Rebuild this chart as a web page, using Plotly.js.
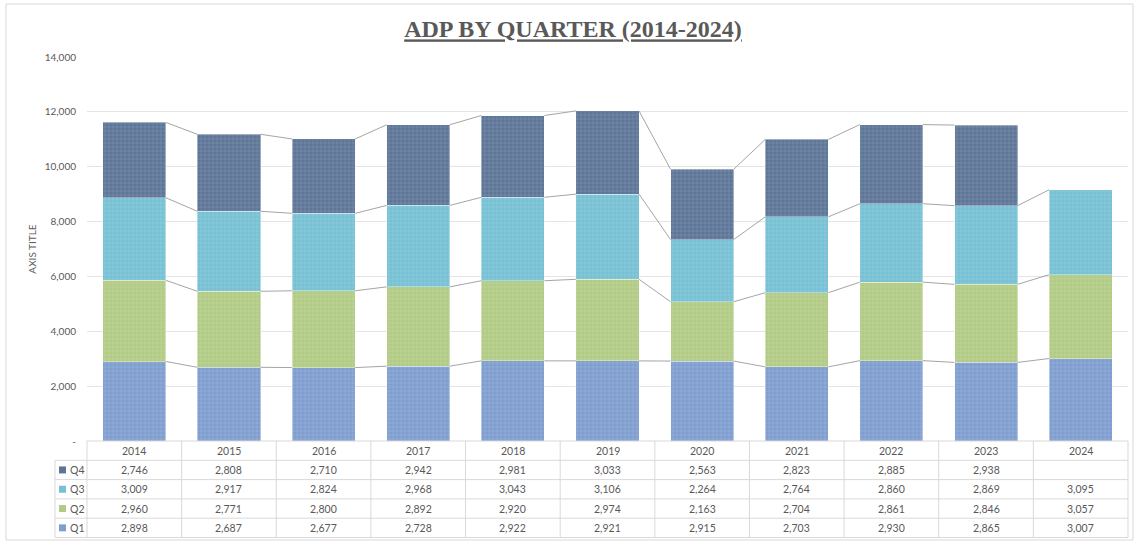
<!DOCTYPE html>
<html><head><meta charset="utf-8">
<script src="https://cdn.plot.ly/plotly-3.0.1.min.js"></script>
<style>html,body{margin:0;padding:0;background:#fff}#chart{width:1135px;height:542px}</style>
</head><body><div id="chart"></div>
<script>
const years = ['2014','2015','2016','2017','2018','2019','2020','2021','2022','2023','2024'];
const q1 = [2898,2687,2677,2728,2922,2921,2915,2703,2930,2865,3007];
const q2 = [2960,2771,2800,2892,2920,2974,2163,2704,2861,2846,3057];
const q3 = [3009,2917,2824,2968,3043,3106,2264,2764,2860,2869,3095];
const q4 = [2746,2808,2710,2942,2981,3033,2563,2823,2885,2938,null];
const seriesNames = ['Q1','Q2','Q3','Q4'];
const yTickVals = [0,2000,4000,6000,8000,10000,12000,14000];
const yTickText = ['-','2,000','4,000','6,000','8,000','10,000','12,000','14,000'];

const series = [q1,q2,q3,q4];
const colors = ['#7f9ecf','#b2cb84','#76c1d4','#5d7597'];
const W = 1135, H = 542;
const M = {l:87, r:7, t:57, b:101};
const plotW = W - M.l - M.r, plotH = H - M.t - M.b;
const px2x = p => (p - M.l) / plotW;
const px2y = p => (H - M.b - p) / plotH;
const idx = years.map((_, i) => i);
const barW = 2/3;

const traces = [];
series.forEach((s, k) => {
  traces.push({
    type:'bar', name: seriesNames[k], x: idx, y: s,
    width: barW,
    marker:{color: colors[k], line:{color:'rgba(255,255,255,0.6)', width:0.6},
      pattern:{shape:'+', size:4, solidity:0.18, fgcolor:'#ffffff', fgopacity:0.28, fillmode:'overlay'}},
    hoverinfo:'skip'
  });
});
// series lines
series.forEach((s, k) => {
  const cum = idx.map(i => {
    if (s[i] == null) return null;
    let t = 0; for (let j = 0; j <= k; j++) t += series[j][i] || 0; return t;
  });
  const lx = [], ly = [];
  for (let i = 0; i < idx.length - 1; i++) {
    if (cum[i] != null && cum[i+1] != null) {
      lx.push(i + barW/2, i + 1 - barW/2, null);
      ly.push(cum[i], cum[i+1], null);
    }
  }
  traces.push({type:'scatter', mode:'lines', x: lx, y: ly, line:{color:'#a5a5a5', width:1}, hoverinfo:'skip', showlegend:false});
});

// data table
const shapes = [], annotations = [];
const gridC = '#d9d9d9', txtC = '#595959';
const rowH = 19.3, top0 = H - M.b, labelLeft = 55;
const nRows = 5;
const rowTop = r => top0 + r * rowH;
const colX = j => j / years.length;
// outer border
shapes.push({type:'rect', xref:'paper', yref:'paper', x0:px2x(6), x1:px2x(1133), y0:px2y(540), y1:px2y(4), line:{color:gridC, width:1}, layer:'below'});
for (let r = 0; r <= nRows; r++) {
  shapes.push({type:'line', xref:'paper', yref:'paper', x0: r === 0 ? 0 : px2x(labelLeft), x1:1, y0:px2y(rowTop(r)), y1:px2y(rowTop(r)), line:{color:gridC, width:1}});
}
for (let j = 0; j <= years.length; j++) {
  shapes.push({type:'line', xref:'paper', yref:'paper', x0:colX(j), x1:colX(j), y0:px2y(rowTop(0)), y1:px2y(rowTop(nRows)), line:{color:gridC, width:1}});
}
shapes.push({type:'line', xref:'paper', yref:'paper', x0:px2x(labelLeft), x1:px2x(labelLeft), y0:px2y(rowTop(1)), y1:px2y(rowTop(nRows)), line:{color:gridC, width:1}});
const tf = {family:'Lato, sans-serif', size:10.5, color:txtC};
years.forEach((y, i) => {
  annotations.push({xref:'paper', yref:'paper', x:(i+0.5)/years.length, y:px2y(rowTop(0)+rowH/2), text:y, showarrow:false, font:tf, xanchor:'center', yanchor:'middle'});
});
const rowOrder = [3,2,1,0];
rowOrder.forEach((k, r) => {
  const yc = rowTop(r+1) + rowH/2;
  shapes.push({type:'rect', xref:'paper', yref:'paper', x0:px2x(59), x1:px2x(66), y0:px2y(yc+3.5), y1:px2y(yc-3.5), fillcolor:colors[k], line:{width:0}});
  annotations.push({xref:'paper', yref:'paper', x:px2x(68), y:px2y(yc), text:seriesNames[k], showarrow:false, font:tf, xanchor:'left', yanchor:'middle'});
  series[k].forEach((v, i) => {
    if (v == null) return;
    annotations.push({xref:'paper', yref:'paper', x:(i+0.5)/years.length, y:px2y(yc), text:v.toLocaleString('en-US'), showarrow:false, font:tf, xanchor:'center', yanchor:'middle'});
  });
});

const layout = {
  width:W, height:H, margin:M, barmode:'stack', showlegend:false,
  paper_bgcolor:'#ffffff', plot_bgcolor:'#ffffff',
  font:{family:'Lato, sans-serif', color:txtC},
  title:{text:'<b><u>ADP BY QUARTER (2014-2024)</u></b>', font:{family:'Liberation Serif, serif', size:24, color:txtC},
    x:573/W, xref:'container', xanchor:'center', y:1-29/H, yref:'container', yanchor:'middle'},
  xaxis:{range:[-0.5, years.length-0.5], showticklabels:false, showgrid:false, zeroline:false, ticks:'', fixedrange:true},
  yaxis:{range:[0,14000], tickvals:yTickVals, ticktext:yTickText, showgrid:true, gridcolor:'#e4e4e4', gridwidth:1, zeroline:false,
    tickfont:{family:'Lato, sans-serif', size:10, color:txtC}, ticklabelstandoff:10,
    title:{text:'AXIS TITLE', font:{family:'Lato, sans-serif', size:10, color:txtC}, standoff:6}},
  shapes, annotations
};
Plotly.newPlot('chart', traces, layout, {displayModeBar:false, staticPlot:true});
</script></body></html>
